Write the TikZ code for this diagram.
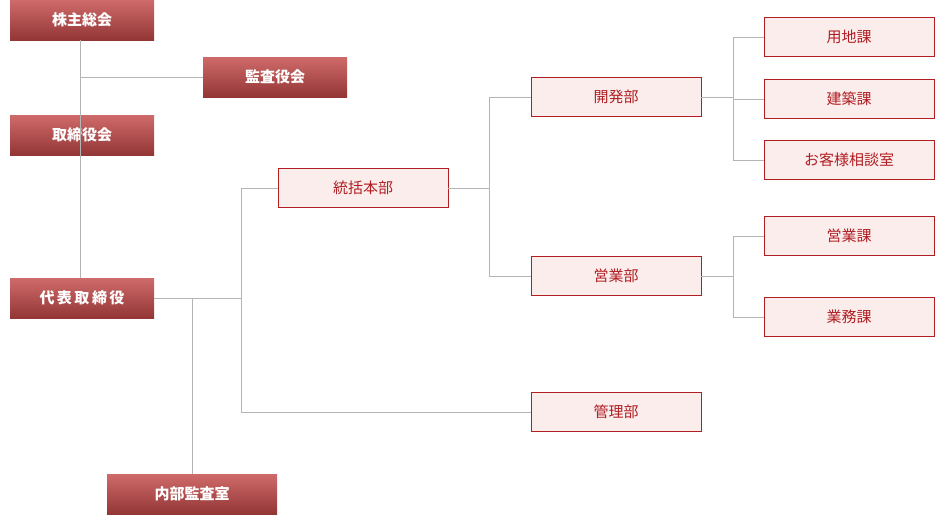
\documentclass[tikz,border=0pt]{standalone}
\usepackage{fontspec}
\setmainfont{Noto Sans CJK JP}
\usetikzlibrary{shadows}

\definecolor{boxtop}{HTML}{CF6A6A}
\definecolor{boxbot}{HTML}{933636}
\definecolor{lightred}{HTML}{FCEDED}
\definecolor{darkred}{HTML}{B01E22}
\definecolor{linegray}{HTML}{B4B4B4}

\begin{document}
\begin{tikzpicture}[x=1pt,y=-1pt,
  board/.style = {rectangle,top color=boxtop,bottom color=boxbot,draw=none,minimum width=144pt,minimum height=40pt,
                  text=white,font=\bfseries\fontsize{15}{15}\selectfont,outer sep=0pt},
  dept/.style = {rectangle,fill=lightred,draw=darkred,semithick,minimum width=170pt,minimum height=39pt,
                 text=darkred,font=\fontsize{15}{15}\selectfont,outer sep=0pt},
  link/.style = {draw=linegray,semithick}]
\useasboundingbox (0,0) rectangle (944,515);
% board level
\node[board] (shareholders) at (82,20) {株主総会};
\node[board] (auditors) at (275,77) {監査役会};
\node[board] (directors) at (82,135) {取締役会};
\node[board] (president) at (82,298) {代\,表\,取\,締\,役};
\node[board,minimum width=170pt] (audit) at (192,494) {内部監査室};
% departments
\node[dept] (hq) at (363,188) {統括本部};
\node[dept] (dev) at (616,97) {開発部};
\node[dept] (sales) at (616,276) {営業部};
\node[dept] (admin) at (616,412) {管理部};
\foreach \name/\y/\txt in {land/37/用地課, build/99/建築課, desk/160/お客様相談室, salesec/236/営業課, office/317/業務課}
    \node[dept] (\name) at (849,\y) {\txt};
% connectors
\coordinate (a) at (80,77);
\coordinate (b) at (241,298);
\coordinate (c) at (192,298);
\coordinate (d) at (489,188);
\coordinate (e) at (733,97);
\coordinate (f) at (733,276);
\draw[link] (shareholders.south -| a) -- (president.north -| a);
\draw[link] (a) -- (auditors.west);
\draw[link] (president.east) -- (b);
\draw[link] (c) -- (audit.north);
\draw[link] (b |- hq) -- (b |- admin);
\draw[link] (b |- hq) -- (hq.west);
\draw[link] (b |- admin) -- (admin.west);
\draw[link] (hq.east) -- (d);
\draw[link] (d |- dev) -- (d |- sales);
\draw[link] (d |- dev) -- (dev.west);
\draw[link] (d |- sales) -- (sales.west);
\draw[link] (dev.east) -- (e);
\draw[link] (e |- land) -- (e |- desk);
\foreach \n in {land, build, desk}
    \draw[link] (e |- \n) -- (\n.west);
\draw[link] (sales.east) -- (f);
\draw[link] (f |- salesec) -- (f |- office);
\foreach \n in {salesec, office}
    \draw[link] (f |- \n) -- (\n.west);
\end{tikzpicture}
\end{document}
